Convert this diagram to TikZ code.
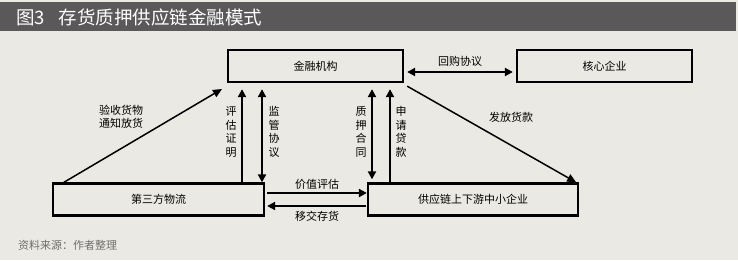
\documentclass[tikz,border=0pt]{standalone}
\usepackage{fontspec}
\setmainfont{Noto Sans CJK SC}
\usetikzlibrary{arrows.meta}
\definecolor{bgcol}{HTML}{EBE9E3}
\definecolor{barcol}{HTML}{5A5858}
\definecolor{srccol}{HTML}{6E6E6E}
\begin{document}
\begin{tikzpicture}[
    x=1pt, y=-1pt,
    party/.style={rectangle, draw, line width=2.3pt, minimum width=175pt, minimum height=32pt, font=\fontsize{11}{13}\selectfont},
    arrow/.style={-{Triangle[length=8pt,width=8pt]}, line width=2pt},
    dblarrow/.style={{Triangle[length=8pt,width=8pt]}-{Triangle[length=8pt,width=8pt]}, line width=2pt},
    thinarrow/.style={-{Triangle[length=9pt,width=8pt]}, line width=1.5pt},
    label/.style={font=\fontsize{11}{13.5}\selectfont, align=center, inner sep=1pt}
]
% Background and title bar
\useasboundingbox (0,0) rectangle (738,260);
\fill[bgcol] (0,0) rectangle (738,260);
\fill[barcol] (0,2) rectangle (736,31);
\node[anchor=west, text=white, font=\fontsize{18.5}{21}\selectfont, inner sep=0pt] (title) at (16,17) {图3\hspace{0.75em}存货质押供应链金融模式};
% Parties
\node[party] (bank) at (315.5,66) {金融机构};
\node[party] (core) at (604.5,66) {核心企业};
\node[party, minimum width=211pt] (logistics) at (158.5,199.5) {第三方物流};
\node[party, minimum width=210pt] (sme) at (473,199.5) {供应链上下游中小企业};
% Helper coordinates
\coordinate (cA) at (242,0);
\coordinate (cB) at (262,0);
\coordinate (cC) at (372,0);
\coordinate (cD) at (390,0);
\coordinate (rA) at (0,72);
\coordinate (rB) at (0,193);
\coordinate (rC) at (0,206);
\coordinate (pA) at (222,89);

% Bank and core enterprise
\draw[dblarrow, shorten <=3pt, shorten >=3pt] (bank.east |- rA) -- (core.west |- rA);
\node[label] at (460,61) {回购协议};

% Logistics to bank
\draw[thinarrow] ([xshift=12pt]logistics.north west) -- (pA);
\node[label] at (121,117) {验收货物\\通知放货};
\draw[arrow, shorten >=6pt] (logistics.north -| cA) -- (bank.south -| cA);
\node[label] at (231,132) {评\\估\\证\\明};
\draw[dblarrow, shorten >=6pt] (logistics.north -| cB) -- (bank.south -| cB);
\node[label] at (274,132) {监\\管\\协\\议};

% SME to bank
\draw[dblarrow, shorten <=3pt, shorten >=6pt] (sme.north -| cC) -- (bank.south -| cC);
\node[label] at (361,132) {质\\押\\合\\同};
\draw[arrow, shorten >=6pt] (sme.north -| cD) -- (bank.south -| cD);
\node[label] at (401,132) {申\\请\\贷\\款};
\draw[thinarrow] ([xshift=3pt,yshift=-3pt]bank.south east) -- ([xshift=-3pt]sme.north east);
\node[label] at (511,117) {发放货款};

% Logistics and SME
\draw[arrow, shorten <=2pt] (logistics.east |- rB) -- (sme.west |- rB);
\node[label] at (317,184) {价值评估};
\draw[arrow, shorten <=1pt, shorten >=2pt] (sme.west |- rC) -- (logistics.east |- rC);
\node[label] at (317,216) {移交存货};

% Source
\node[anchor=west, text=srccol, font=\fontsize{11}{13}\selectfont, inner sep=0pt] (source) at (18,245) {资料来源：作者整理};
\end{tikzpicture}
\end{document}
